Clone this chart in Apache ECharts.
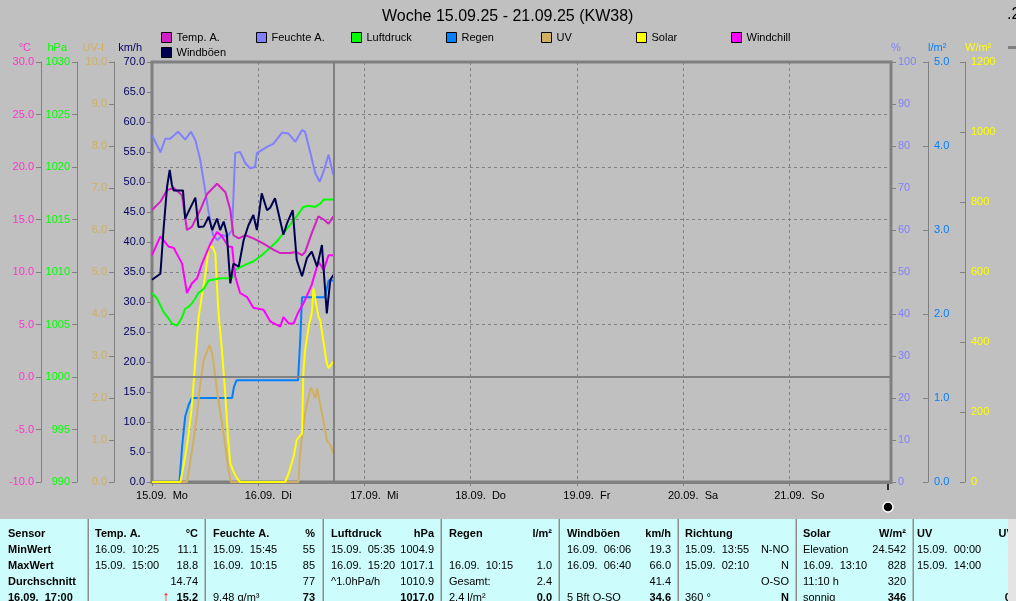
<!DOCTYPE html>
<html><head><meta charset="utf-8">
<script src="https://cdn.jsdelivr.net/npm/echarts@6/dist/echarts.min.js"></script>
<style>html,body{margin:0;padding:0;background:#c0c0c0;overflow:hidden}#c{width:1016px;height:601px}</style>
</head><body><div id="c"></div>
<script>
const FONT = 'Liberation Sans';
const chartTitle = 'Woche 15.09.25 - 21.09.25 (KW38)';
const dayLabels = ['15.09.  Mo','16.09.  Di','17.09.  Mi','18.09.  Do','19.09.  Fr','20.09.  Sa','21.09.  So'];

// time = hours since 15.09. 00:00
const tempA = [[0,15.9],[1.9,16.7],[3.4,17.8],[4.9,18.0],[6.8,17.3],[7.9,14.0],[9.0,14.3],[10.9,15.9],[12.4,17.4],[14.7,18.4],[16.6,17.6],[17.7,15.9],[18.4,13.5],[19.6,13.2],[21.1,13.5],[22.9,13.2],[25.2,12.7],[27.5,12.1],[29.0,11.8],[31.2,11.8],[32.7,11.9],[33.9,11.6],[34.6,11.9],[36.1,13.7],[37.6,15.3],[38.8,15.0],[39.9,14.6],[41.0,15.3]];
const windchill = [[0,11.6],[1.9,13.4],[3.8,12.4],[4.9,12.3],[6.8,10.8],[7.9,8.0],[9.0,8.9],[10.2,9.4],[11.3,10.8],[13.2,12.7],[14.7,13.8],[15.8,13.4],[17.3,12.4],[18.1,12.4],[18.8,9.6],[19.9,8.0],[21.5,7.6],[22.9,6.6],[25.2,6.4],[26.7,5.3],[29.0,4.8],[29.7,5.7],[30.9,5.1],[32.0,5.1],[33.1,6.2],[34.2,7.0],[35.4,8.1],[36.1,8.8],[37.6,11.0],[38.8,10.2],[39.9,11.6],[41.0,11.6]];
const humidity = [[0,82.6],[1.9,78.5],[3.0,81.7],[4.1,81.7],[5.9,83.4],[7.5,81.5],[8.8,83.4],[9.8,81.4],[10.9,76.7],[12.0,69.5],[12.7,64.8],[13.8,58.8],[14.8,57.6],[15.9,58.8],[17.0,58.4],[18.1,60.0],[18.8,78.3],[19.9,78.6],[21.1,75.9],[22.2,74.7],[23.3,75.0],[23.7,78.3],[26.0,79.8],[27.4,80.5],[29.4,83.2],[30.8,83.0],[32.4,81.0],[33.9,83.8],[34.6,83.4],[35.8,78.3],[36.9,73.5],[37.9,71.5],[38.8,74.0],[39.9,77.9],[41.0,73.1]];
const pressure = [[0,1008.0],[1.1,1007.5],[2.6,1006.2],[3.7,1005.6],[4.5,1005.1],[5.6,1004.9],[6.0,1005.1],[6.8,1005.7],[7.5,1006.5],[8.3,1006.7],[9.0,1007.0],[9.8,1007.5],[10.5,1008.0],[11.7,1008.4],[12.8,1009.2],[15.4,1009.4],[18.1,1009.4],[18.8,1010.2],[21.1,1010.7],[22.9,1011.0],[24.8,1011.6],[26.7,1012.3],[28.2,1012.9],[29.7,1013.7],[31.2,1014.5],[32.7,1015.3],[34.2,1016.2],[35.4,1016.3],[36.9,1016.2],[38.0,1016.5],[38.8,1016.9],[41.0,1016.9]];
const rain = [[0,0],[6.2,0],[6.8,0.42],[7.5,0.78],[8.3,0.92],[9.0,1.0],[18.1,1.0],[18.5,1.13],[19.1,1.21],[33.0,1.21],[33.5,1.7],[33.9,2.2],[39.1,2.2],[39.9,2.4],[41.0,2.4]];
const uvIndex = [[0,0],[7.9,0],[8.6,0.44],[9.4,1.0],[10.2,1.64],[10.9,2.35],[11.7,2.9],[12.4,3.1],[13.0,3.26],[13.6,3.06],[14.3,2.5],[15.0,1.95],[15.8,1.4],[16.6,0.84],[17.3,0.29],[17.8,0],[33.1,0],[33.4,0.6],[33.9,1.08],[34.6,1.64],[35.4,2.03],[35.9,2.25],[36.5,2.1],[36.9,2.0],[37.3,2.23],[37.7,2.2],[38.4,1.64],[39.1,1.24],[39.5,1.0],[40.3,0.88],[41.0,0.68]];
const solar = [[0,0],[6.4,0],[6.8,25],[7.5,72],[8.3,139],[9.0,215],[9.8,349],[10.5,468],[11.3,534],[12.0,587],[12.8,668],[13.6,674],[14.3,653],[14.7,558],[15.0,490],[15.8,377],[16.6,244],[17.1,139],[17.7,53],[18.4,30],[19.2,11],[19.9,0],[30.1,0],[30.9,25],[32.0,72],[32.7,120],[33.9,139],[34.2,310],[34.6,377],[35.4,444],[36.1,482],[36.5,553],[36.9,553],[37.6,472],[38.0,463],[38.8,396],[39.5,339],[39.9,325],[40.4,334],[41.0,344]];
const gusts = [[0,33.7],[1.9,34.7],[2.6,42.0],[3.4,49.2],[4.0,52.0],[4.5,49.5],[4.9,48.6],[7.0,48.6],[7.5,43.9],[8.6,45.6],[9.8,47.4],[10.5,42.5],[11.7,42.6],[12.8,44.2],[13.6,42.0],[14.7,43.9],[15.4,42.0],[16.2,43.4],[16.9,41.4],[17.7,33.1],[18.4,36.4],[19.6,35.9],[20.7,40.3],[21.8,42.8],[22.9,44.5],[23.7,42.0],[24.8,48.1],[26.0,45.3],[26.7,45.7],[27.8,47.3],[29.7,41.2],[30.5,43.1],[31.8,45.3],[32.7,37.0],[33.9,34.3],[35.0,37.3],[36.1,38.4],[37.3,35.9],[38.4,39.5],[39.5,28.1],[40.3,33.7],[41.0,34.5]];
const nowHour = 41;

// bottom table
const tblHead = ['Sensor','Temp. A.','Feuchte A.','Luftdruck','Regen','Windböen','Richtung','Solar','UV'];
const tblUnit = ['','°C','%','hPa','l/m²','km/h','','W/m²','UV-I'];
const rowNames = ['MinWert','MaxWert','Durchschnitt','16.09.  17:00'];
const tblLeftText = [
  ['16.09.  10:25','15.09.  15:00','',''],
  ['15.09.  15:45','16.09.  10:15','','9.48 g/m³'],
  ['15.09.  05:35','16.09.  15:20','^1.0hPa/h',''],
  ['','16.09.  10:15','Gesamt:','2.4 l/m²'],
  ['16.09.  06:06','16.09.  06:40','','5 Bft O-SO'],
  ['15.09.  13:55','15.09.  02:10','','360 °'],
  ['Elevation','16.09.  13:10','11:10 h','sonnig'],
  ['15.09.  00:00','15.09.  14:00','','']
];
const tblRightText = [
  ['11.1','18.8','14.74','15.2'],
  ['55','85','77','73'],
  ['1004.9','1017.1','1010.9','1017.0'],
  ['','1.0','2.4','0.0'],
  ['19.3','66.0','41.4','34.6'],
  ['N-NO','N','O-SO','N'],
  ['24.542','828','320','346'],
  ['','','','0.0']
];

const C = {temp:'#d21fc6', wchill:'#ff00ff', hum:'#8080ff', press:'#00ff00', rain:'#0080ff', uv:'#d0b060', solar:'#ffff00', gust:'#000050'};
const GRID = '#808080';

function yAx(o){
  const left = o.position === 'left';
  return {
    type:'value', position:o.position, offset:o.offset, min:o.min, max:o.max, interval:o.interval,
    name:o.name, nameLocation:'end', nameGap:9,
    nameTextStyle:{color:o.color, fontFamily:FONT, fontSize:11, align:left?'right':'left', padding:left?[0,10,0,0]:[0,0,0,0]},
    axisLine:{show:true, onZero:false, lineStyle:{color:GRID, width:1}},
    axisTick:{show:true, inside:!!o.inside, length:5, lineStyle:{color:GRID}},
    axisLabel:{color:o.color, fontFamily:FONT, fontSize:11, margin:o.margin||7, formatter:v=>v.toFixed(o.dec)},
    splitLine:{show:!!o.split, lineStyle:{color:GRID, type:[3,3], width:1}}
  };
}

const yAxes = [
  yAx({name:'°C', position:'left', offset:111, min:-10, max:30, interval:5, color:'#ff33cc', dec:1, split:true}),
  yAx({name:'hPa', position:'left', offset:75, min:990, max:1030, interval:5, color:'#00ff00', dec:0}),
  yAx({name:'UV-I', position:'left', offset:38, min:0, max:10, interval:1, color:'#d0b060', dec:1}),
  yAx({name:'km/h', position:'left', offset:0, min:0, max:70, interval:5, color:'#000060', dec:1}),
  yAx({name:'%', position:'right', offset:0, min:0, max:100, interval:10, color:'#8080ff', dec:0}),
  yAx({name:'l/m²', position:'right', offset:37, min:0, max:5, interval:1, color:'#0080ff', dec:1, inside:true, margin:6}),
  yAx({name:'W/m²', position:'right', offset:74, min:0, max:1200, interval:200, color:'#ffff00', dec:0, inside:true, margin:6})
];

function line(name, data, yIdx, color, extra){
  return Object.assign({name, type:'line', data, yAxisIndex:yIdx, symbol:'none', showSymbol:false,
    lineStyle:{color, width:2}, itemStyle:{color}, emphasis:{disabled:true}, silent:true}, extra||{});
}

const refLine = {silent:true, symbol:'none', label:{show:false}, lineStyle:{color:GRID, width:2, type:'solid'}};
const series = [
  line('Regen', rain, 5, C.rain, {markLine:Object.assign({data:[{xAxis:nowHour}]}, refLine)}),
  line('UV', uvIndex, 2, C.uv),
  line('Solar', solar, 6, C.solar),
  line('Luftdruck', pressure, 1, C.press),
  line('Feuchte A.', humidity, 4, C.hum),
  line('Windchill', windchill, 0, C.wchill, {markLine:Object.assign({data:[{yAxis:0}]}, refLine)}),
  line('Temp. A.', tempA, 0, C.temp),
  line('Windböen', gusts, 3, C.gust)
];

const legendPos = {'Temp. A.':[161,32],'Feuchte A.':[256,32],'Luftdruck':[351,32],'Regen':[446,32],'UV':[541,32],'Solar':[636,32],'Windchill':[731,32],'Windböen':[161,47]};
const legends = Object.keys(legendPos).map(n=>({
  data:[n], left:legendPos[n][0], top:legendPos[n][1], padding:0, icon:'rect', itemWidth:10, itemHeight:10,
  selectedMode:false, itemStyle:{borderColor:'#000', borderWidth:1},
  textStyle:{color:'#000', fontFamily:FONT, fontSize:11}
}));

// table graphics
const colL = [8,95,213,331,449,567,685,803,917];
const colR = [0,198,315,434,552,671,789,906,1020];
const seps = [88,205,323,441,559,678,796,913];
const rowY = [533.5,549.5,565.5,581.5,597.5];
const g = [];
g.push({type:'rect', shape:{x:0,y:519,width:1016,height:82}, style:{fill:'#ccfcfc'}, silent:true});
seps.forEach(x=>g.push({type:'rect', shape:{x:x-0.5,y:519,width:1.5,height:82}, style:{fill:'#8c8c8c'}, silent:true}));
function txt(s,x,y,bold,align,color,size){
  g.push({type:'text', x, y, silent:true, style:{text:s, fill:color||'#000', font:(bold?'bold ':'')+(size||11)+'px "'+FONT+'"', align:align||'left', verticalAlign:'middle'}});
}
tblHead.forEach((h,i)=>{ txt(h,colL[i],rowY[0],true); if(tblUnit[i]) txt(tblUnit[i],colR[i],rowY[0],true,'right'); });
rowNames.forEach((r,i)=>txt(r,colL[0],rowY[i+1],true));
tblLeftText.forEach((col,ci)=>col.forEach((s,ri)=>{ if(s) txt(s,colL[ci+1],rowY[ri+1],false); }));
tblRightText.forEach((col,ci)=>col.forEach((s,ri)=>{ if(s) txt(s,colR[ci+1],rowY[ri+1],ri===3,'right'); }));
txt('↑',166,rowY[4],true,'center','#ff0000',14);
g.push({type:'rect', shape:{x:1008,y:519,width:8,height:82}, style:{fill:'#e4e4e4'}, silent:true});
// misc decorations
g.push({type:'text', x:1007, y:15, silent:true, style:{text:'.2', fill:'#000', font:'16px "'+FONT+'"', verticalAlign:'middle'}});
g.push({type:'rect', shape:{x:1008,y:46,width:8,height:3}, style:{fill:GRID}, silent:true});
g.push({type:'line', shape:{x1:888,y1:481,x2:888,y2:490}, style:{stroke:'#000', lineWidth:1.5}, silent:true});
g.push({type:'circle', shape:{cx:888,cy:507,r:5}, style:{fill:'#000', stroke:'#fff', lineWidth:1.5}, silent:true});

const chart = echarts.init(document.getElementById('c'), null, {renderer:'canvas'});
chart.setOption({
  animation:false,
  backgroundColor:'#c0c0c0',
  title:{text:chartTitle, left:382, top:9, padding:0, textStyle:{color:'#000', fontFamily:FONT, fontSize:16, fontWeight:'normal'}},
  legend:legends,
  grid:{left:152, right:125, top:62, bottom:119, show:true, borderColor:GRID, borderWidth:3, backgroundColor:'transparent', containLabel:false},
  xAxis:{type:'value', min:0, max:167, interval:24,
    axisLine:{show:true, onZero:false, lineStyle:{color:GRID, width:3}},
    axisTick:{show:true, length:4, lineStyle:{color:GRID}},
    axisLabel:{fontFamily:FONT, fontSize:11, color:'#000', margin:8, showMaxLabel:false,
      formatter:v=>(v%24===0 && dayLabels[v/24]) ? '{p|}'+dayLabels[v/24] : '', rich:{p:{width:20}}},
    splitLine:{show:true, lineStyle:{color:GRID, type:[3,3], width:1}}},
  yAxis:yAxes,
  series,
  graphic:g
});
</script></body></html>
